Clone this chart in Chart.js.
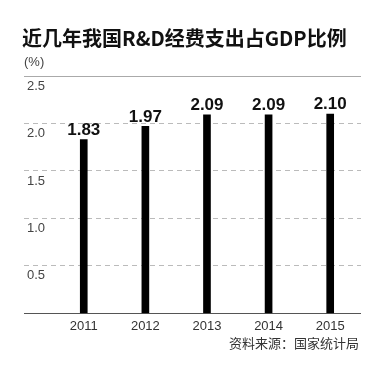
<!DOCTYPE html>
<html>
<head>
<meta charset="utf-8">
<script src="https://cdn.jsdelivr.net/npm/chart.js@4/dist/chart.umd.min.js"></script>
<style>
  html, body { margin: 0; padding: 0; background: #fff; }
  #wrap { width: 371px; height: 368px; }
</style>
</head>
<body>
<div id="wrap"><canvas id="rdChart" width="371" height="368"></canvas></div>
<script>
// data
const years = [2011, 2012, 2013, 2014, 2015];
const ratios = [1.83, 1.97, 2.09, 2.09, 2.10];
const yTicks = [0, 0.5, 1.0, 1.5, 2.0, 2.5];

const titleText = "近几年我国R&D经费支出占GDP比例";
const unitText = "(%)";
const sourceText = "资料来源：国家统计局";

const cjk = '"Noto Sans CJK SC", "Noto Sans", sans-serif';
const latin = '"Liberation Sans", Arial, sans-serif';

// title, unit, source and bar value labels
const textPlugin = {
  id: "texts",
  beforeDraw(chart) {
    const c = chart.ctx;
    c.save();
    c.fillStyle = "#fff";
    c.fillRect(0, 0, chart.width, chart.height);
    c.restore();
  },
  afterDatasetsDraw(chart) {
    const c = chart.ctx;
    c.save();
    c.fillStyle = "#111";
    c.textBaseline = "middle";
    c.textAlign = "left";
    c.font = "bold 20px " + cjk;
    c.fillText(titleText, 22, 38);

    c.fillStyle = "#444";
    c.font = "13px " + latin;
    c.fillText(unitText, 24, 62);

    c.textAlign = "right";
    c.font = "13px " + cjk;
    c.fillStyle = "#333";
    c.fillText(sourceText, 359, 343);

    // values above bars
    const meta = chart.getDatasetMeta(0);
    c.textAlign = "center";
    c.textBaseline = "bottom";
    c.fillStyle = "#111";
    c.font = "bold 17px " + latin;
    meta.data.forEach((bar, i) => {
      c.fillText(ratios[i].toFixed(2), bar.x, bar.y - 1);
    });
    c.restore();
  }
};

new Chart(document.getElementById("rdChart"), {
  type: "bar",
  data: {
    datasets: [{
      data: years.map((y, i) => ({ x: y, y: ratios[i] })),
      backgroundColor: "#000",
      barThickness: 7,
    }],
  },
  options: {
    responsive: false,
    animation: false,
    events: [],
    layout: { padding: { left: 18, right: 10, top: 76, bottom: 29 } },
    plugins: { legend: { display: false }, tooltip: { enabled: false } },
    scales: {
      x: {
        type: "linear",
        offset: false,
        min: 2010.03,
        max: 2015.5,
        afterBuildTicks: (axis) => { axis.ticks = years.map(v => ({ value: v })); },
        grid: { display: false, drawTicks: false, offset: false },
        border: { display: false },
        ticks: {
          callback: (v) => String(v),
          color: "#333",
          font: { size: 13, family: latin },
          padding: 5,
          maxRotation: 0,
        },
      },
      y: {
        min: 0,
        max: 2.5,
        afterBuildTicks: (axis) => { axis.ticks = yTicks.map(v => ({ value: v })); },
        grid: {
          drawTicks: false,
          color: (ctx) => {
            const v = ctx.tick ? ctx.tick.value : null;
            if (v === 0) return "#555";
            if (v === 2.5) return "#aaa";
            return "#bbb";
          },
          lineWidth: 1,
        },
        border: {
          display: false,
          dash: (ctx) => {
            const v = ctx.tick ? ctx.tick.value : null;
            return (v === 0 || v === 2.5) ? [] : [5, 4];
          },
        },
        ticks: {
          mirror: true,
          padding: 3,
          labelOffset: 10,
          color: "#444",
          font: { size: 13, family: latin },
          callback: (v) => (v === 0 ? "" : v.toFixed(1)),
        },
      },
    },
  },
  plugins: [textPlugin],
});
</script>
</body>
</html>
